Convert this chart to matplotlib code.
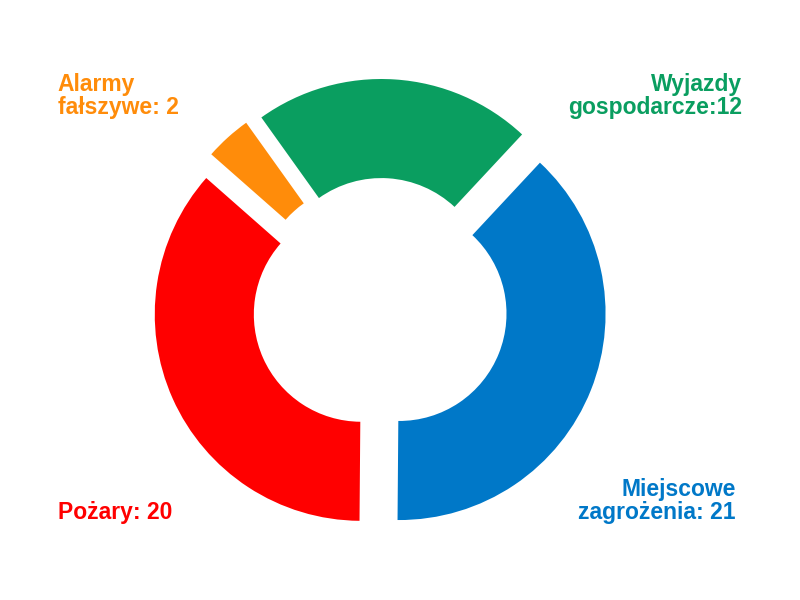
import matplotlib
matplotlib.use("Agg")
import matplotlib.pyplot as plt

plt.rcParams['font.family'] = ['Liberation Sans', 'DejaVu Sans']

labels = ["Miejscowe\nzagrożenia: 21", "Pożary: 20", "Alarmy\nfałszywe: 2", "Wyjazdy\ngospodarcze:12"]
values = [21, 20, 2, 12]
colors = ["#0078C8", "#FF0000", "#FF8C0A", "#0A9E60"]

fig = plt.figure(figsize=(8, 6), dpi=100)
ax = fig.add_axes([0.1, 0.06, 0.75, 0.86])
ax.pie(values, colors=colors, startangle=47, counterclock=False,
       explode=[0.1] * 4, radius=1.0,
       wedgeprops=dict(width=0.48, edgecolor="none"))
ax.set_aspect("equal")

# labels in the corners
fig.text(0.072, 0.84, labels[2], color=colors[2], fontsize=16.5, fontweight="bold", va="center", ha="left", linespacing=1.0)
fig.text(0.928, 0.84, labels[3], color=colors[3], fontsize=16.5, fontweight="bold", va="center", ha="right", linespacing=1.0)
fig.text(0.072, 0.145, labels[1], color=colors[1], fontsize=16.5, fontweight="bold", va="center", ha="left")
fig.text(0.92, 0.165, labels[0], color=colors[0], fontsize=16.5, fontweight="bold", va="center", ha="right", linespacing=1.0)

fig.savefig("out.png")
